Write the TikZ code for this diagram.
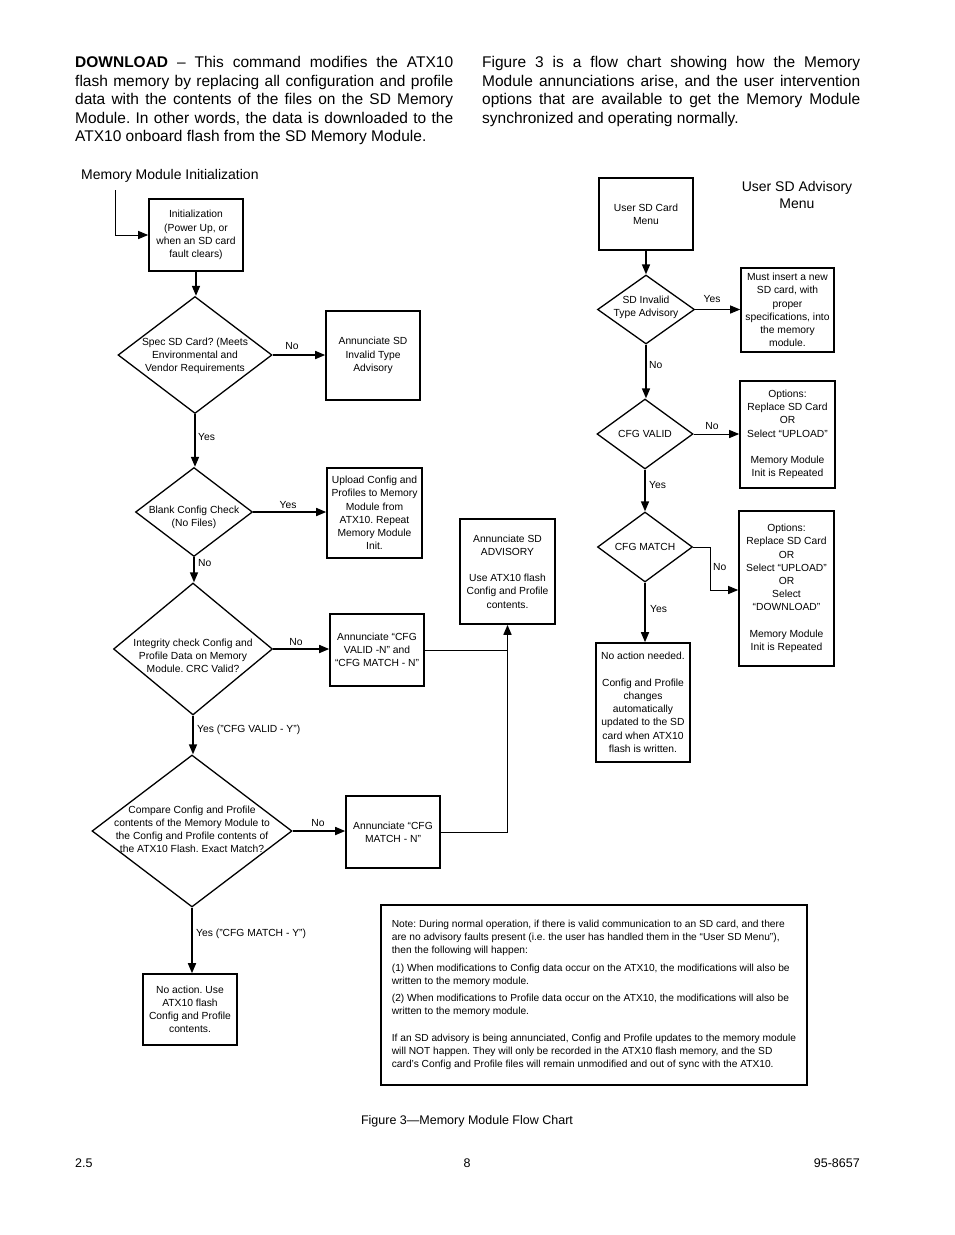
\documentclass[tikz,border=0pt]{standalone}
\usepackage{fontspec}
\setmainfont{Liberation Sans}
\usetikzlibrary{shapes.geometric,arrows.meta,calc}
\frenchspacing
\newcommand\fbx{\fontsize{10.3}{13.2}\selectfont}
\newcommand\fnote{\fontsize{10.2}{13.1}\selectfont}
\newcommand\fbody{\fontsize{15.5}{18.6}\selectfont}
\newcommand\fhead{\fontsize{14}{17}\selectfont}
\newcommand\ffoot{\fontsize{12.5}{15}\selectfont}
\begin{document}
\begin{tikzpicture}[x=1pt,y=-1pt,
 box/.style={draw, line width=1.6pt, inner sep=0pt, align=center, font=\fbx},
 dia/.style={draw, diamond, line width=1.3pt, inner sep=0pt},
 dtxt/.style={align=center, font=\fbx, inner sep=0pt},
 lbl/.style={font=\fbx, inner sep=0pt},
 arr/.style={-{Triangle[length=10pt,width=8pt]}, line width=1.6pt},
 arrthin/.style={-{Triangle[length=10pt,width=8pt]}, line width=1pt},
 thinline/.style={line width=1pt},
]
\fill[white] (0,0) rectangle (954,1235);
\useasboundingbox (0,0) rectangle (954,1235);

% header paragraphs
\node[anchor=north west, inner sep=0pt, text width=378pt, align=justify, font=\fbody] (p1) at (75,56)
 {\textbf{DOWNLOAD} – This command modifies the ATX10\linebreak flash memory by replacing all configuration and profile\linebreak data with the contents of the files on the SD Memory\linebreak Module. In other words, the data is downloaded to the\linebreak ATX10 onboard flash from the SD Memory Module.};
\node[anchor=north west, inner sep=0pt, text width=378pt, align=justify, font=\fbody] (p2) at (482,56)
 {Figure 3 is a flow chart showing how the Memory\linebreak Module annunciations arise, and the user intervention\linebreak options that are available to get the Memory Module\linebreak synchronized and operating normally.};

% titles
\node[anchor=west, inner sep=0pt, font=\fhead] (t1) at (81,176) {Memory Module Initialization};
\node[align=center, inner sep=0pt, font=\fhead] (t2) at (797,195) {User SD Advisory\\Menu};

% left column
\node[box, minimum width=94, minimum height=72] (init) at (196,235) {Initialization\\(Power Up, or\\when an SD card\\fault clears)};
\node[dia, minimum width=154, minimum height=117] (d1) at (195,355) {};
\node[dtxt] (d1t) at (195,356) {Spec SD Card? (Meets\\Environmental and\\Vendor Requirements};
\node[box, minimum width=94, minimum height=89] (b2) at (373,355.5) {Annunciate SD\\Invalid Type\\Advisory};
\node[dia, minimum width=117, minimum height=89] (d2) at (194,512) {};
\node[dtxt] (d2t) at (194,517.5) {Blank Config Check\\(No Files)};
\node[box, minimum width=95, minimum height=90] (b3) at (374.5,513) {Upload Config and\\Profiles to Memory\\Module from\\ATX10. Repeat\\Memory Module\\Init.};
\node[dia, minimum width=159, minimum height=132] (d3) at (193,649) {};
\node[dtxt] (d3t) at (193,656) {Integrity check Config and\\Profile Data on Memory\\Module. CRC Valid?};
\node[box, minimum width=94, minimum height=72] (b4) at (377,650) {Annunciate “CFG\\VALID -N” and\\“CFG MATCH - N”};
\node[box, minimum width=95, minimum height=105] (b5) at (507.5,571.5) {Annunciate SD\\ADVISORY\\[13.2pt]Use ATX10 flash\\Config and Profile\\contents.};
\node[dia, minimum width=200, minimum height=152] (d4) at (192,831) {};
\node[dtxt] (d4t) at (192,829.5) {Compare Config and Profile\\contents of the Memory Module to\\the Config and Profile contents of\\the ATX10 Flash. Exact Match?};
\node[box, minimum width=94, minimum height=72] (b6) at (393,832) {Annunciate “CFG\\MATCH - N”};
\node[box, minimum width=94, minimum height=71] (b7) at (190,1009.5) {No action. Use\\ATX10 flash\\Config and Profile\\contents.};

% right column
\node[box, minimum width=94, minimum height=72] (r1) at (646,214) {User SD Card\\Menu};
\node[dia, minimum width=97, minimum height=69] (rd1) at (646,309.5) {};
\node[dtxt] (rd1t) at (646,307.5) {SD Invalid\\Type Advisory};
\node[box, minimum width=93, minimum height=84] (r2) at (787.5,310) {Must insert a new\\SD card, with\\proper\\specifications, into\\the memory\\module.};
\node[dia, minimum width=96, minimum height=70] (rd2) at (645,434) {};
\node[dtxt] (rd2t) at (rd2) {CFG VALID};
\node[box, minimum width=95, minimum height=107] (r3) at (787.5,434.5) {Options:\\Replace SD Card\\OR\\Select “UPLOAD”\\[13.2pt]Memory Module\\Init is Repeated};
\node[dia, minimum width=95, minimum height=70] (rd3) at (645,547) {};
\node[dtxt] (rd3t) at (rd3) {CFG MATCH};
\node[box, minimum width=95, minimum height=155] (r4) at (786.5,588.5) {Options:\\Replace SD Card\\OR\\Select “UPLOAD”\\OR\\Select\\“DOWNLOAD”\\[13.2pt]Memory Module\\Init is Repeated};
\node[box, minimum width=94, minimum height=119] (r5) at (643,702.5) {No action needed.\\[13.2pt]Config and Profile\\changes\\automatically\\updated to the SD\\card when ATX10\\flash is written.};

% note
\node[box, minimum width=426, minimum height=180, align=left, font=\fnote] (note) at (594,995)
 {Note: During normal operation, if there is valid communication to an SD card, and there\\
  are no advisory faults present (i.e. the user has handled them in the “User SD Menu”),\\
  then the following will happen:\\[4pt]
  (1) When modifications to Config data occur on the ATX10, the modifications will also be\\
  written to the memory module.\\[4pt]
  (2) When modifications to Profile data occur on the ATX10, the modifications will also be\\
  written to the memory module.\\[14pt]
  If an SD advisory is being annunciated, Config and Profile updates to the memory module\\
  will NOT happen. They will only be recorded in the ATX10 flash memory, and the SD\\
  card’s Config and Profile files will remain unmodified and out of sync with the ATX10.};

% caption and footer
\node[inner sep=0pt, font=\ffoot] (cap) at (467,1121) {Figure 3—Memory Module Flow Chart};
\node[anchor=west, inner sep=0pt, font=\ffoot] (f1) at (75,1163) {2.5};
\node[inner sep=0pt, font=\ffoot] (f2) at (467,1163) {8};
\node[anchor=east, inner sep=0pt, font=\ffoot] (f3) at (860,1163) {95-8657};

% left connectors
\coordinate (start) at (115,190);
\draw[arrthin] (start) |- (init.west);
\draw[arr] (init.south) -- (init.south |- d1.north);
\draw[arr] (d1.east) -- (d1.east -| b2.west);
\node[lbl] at (292,346) {No};
\draw[arr] (d1.south) -- (d1.south |- d2.north);
\node[lbl, anchor=west] at (198,437) {Yes};
\draw[arr] (d2.east) -- (d2.east -| b3.west);
\node[lbl] at (288,505) {Yes};
\draw[arr] (d2.south) -- (d2.south |- d3.north);
\node[lbl, anchor=west] at (198,563) {No};
\draw[arr] (d3.east) -- (d3.east -| b4.west);
\node[lbl] at (296,642) {No};
\coordinate (j1) at (b5.south |- b4.east);
\draw[thinline] (b4.east) -- (j1);
\draw[arr] (d3.south) -- (d3.south |- d4.north);
\node[lbl, anchor=west] at (197,730) {Yes (”CFG VALID - Y”)};
\draw[arr] (d4.east) -- (d4.east -| b6.west);
\node[lbl] at (318,823) {No};
\coordinate (j2) at (b5.south |- b6.east);
\draw[thinline] (b6.east) -- (j2);
\draw[arr] (j2) -- (b5.south);
\draw[arr] (d4.south) -- (d4.south |- b7.north);
\node[lbl, anchor=west] at (196,934) {Yes (”CFG MATCH - Y”)};

% right connectors
\draw[arr] (r1.south) -- (r1.south |- rd1.north);
\draw[arrthin] (rd1.east) -- (rd1.east -| r2.west);
\node[lbl] at (712,299) {Yes};
\draw[arr] (rd1.south) -- (rd1.south |- rd2.north);
\node[lbl, anchor=west] at (649,365) {No};
\draw[arrthin] (rd2.east) -- (rd2.east -| r3.west);
\node[lbl] at (712,426) {No};
\draw[arr] (rd2.south) -- (rd2.south |- rd3.north);
\node[lbl, anchor=west] at (649,485) {Yes};
\coordinate (k1) at (710,547);
\coordinate (k2) at (710,590);
\draw[arrthin] (rd3.east) -- (k1) -- (k2) -- (k2 -| r4.west);
\node[lbl, anchor=west] at (713,567) {No};
\draw[arr] (rd3.south) -- (rd3.south |- r5.north);
\node[lbl, anchor=west] at (650,609) {Yes};
\end{tikzpicture}
\end{document}
